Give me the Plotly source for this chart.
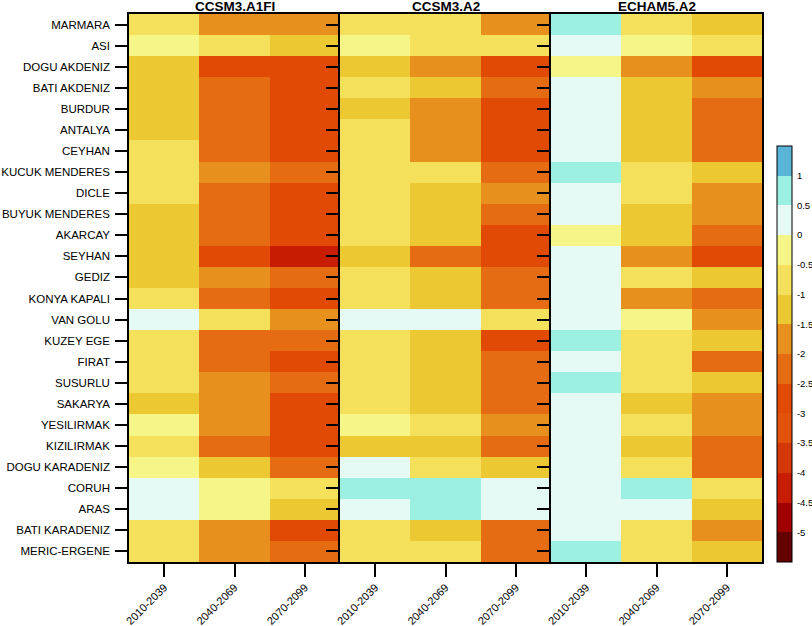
import plotly.graph_objects as go
from plotly.subplots import make_subplots

basins = ["MARMARA", "ASI", "DOGU AKDENIZ", "BATI AKDENIZ", "BURDUR", "ANTALYA",
          "CEYHAN", "KUCUK MENDERES", "DICLE", "BUYUK MENDERES", "AKARCAY", "SEYHAN",
          "GEDIZ", "KONYA KAPALI", "VAN GOLU", "KUZEY EGE", "FIRAT", "SUSURLU",
          "SAKARYA", "YESILIRMAK", "KIZILIRMAK", "DOGU KARADENIZ", "CORUH", "ARAS",
          "BATI KARADENIZ", "MERIC-ERGENE"]
periods = ["2010-2039", "2040-2069", "2070-2099"]
models = ["CCSM3.A1FI", "CCSM3.A2", "ECHAM5.A2"]

a1fi_2010 = [-0.75, -0.25, -1.25, -1.25, -1.25, -1.25, -0.75, -0.75, -0.75, -1.25, -1.25, -1.25, -1.25,
             -0.75, 0.25, -0.75, -0.75, -0.75, -1.25, -0.25, -0.75, -0.25, 0.25, 0.25, -0.75, -0.75]
a1fi_2040 = [-1.75, -0.75, -2.75, -2.25, -2.25, -2.25, -2.25, -1.75, -2.25, -2.25, -2.25, -2.75, -1.75,
             -2.25, -0.75, -2.25, -2.25, -1.75, -1.75, -1.75, -2.25, -1.25, -0.25, -0.25, -1.75, -1.75]
a1fi_2070 = [-1.75, -1.25, -2.75, -2.75, -2.75, -2.75, -2.75, -2.25, -2.75, -2.75, -2.75, -4.25, -2.25,
             -2.75, -1.75, -2.25, -2.75, -2.25, -2.75, -2.75, -2.75, -2.25, -0.75, -1.25, -2.75, -2.25]

a2_2010 = [-0.75, -0.25, -1.25, -0.75, -1.25, -0.75, -0.75, -0.75, -0.75, -0.75, -0.75, -1.25, -0.75,
           -0.75, 0.25, -0.75, -0.75, -0.75, -0.75, -0.25, -1.25, 0.25, 0.75, 0.25, -0.75, -0.75]
a2_2040 = [-0.75, -0.75, -1.75, -1.25, -1.75, -1.75, -1.75, -0.75, -1.25, -1.25, -1.25, -2.25, -1.25,
           -1.25, 0.25, -1.25, -1.25, -1.25, -1.25, -0.75, -1.25, -0.75, 0.75, 0.75, -1.25, -0.75]
a2_2070 = [-1.75, -0.75, -2.75, -2.25, -2.75, -2.75, -2.75, -2.25, -1.75, -2.25, -2.75, -2.75, -2.25,
           -2.25, -0.75, -2.75, -2.25, -2.25, -2.25, -1.75, -2.25, -1.25, 0.25, 0.25, -2.25, -2.25]

echam_2010 = [0.75, 0.25, -0.25, 0.25, 0.25, 0.25, 0.25, 0.75, 0.25, 0.25, -0.25, 0.25, 0.25,
              0.25, 0.25, 0.75, 0.25, 0.75, 0.25, 0.25, 0.25, 0.25, 0.25, 0.25, 0.25, 0.75]
echam_2040 = [-0.75, -0.25, -1.75, -1.25, -1.25, -1.25, -1.25, -0.75, -0.75, -1.25, -1.25, -1.75, -0.75,
              -1.75, -0.25, -0.75, -0.75, -0.75, -1.25, -0.75, -1.25, -0.75, 0.75, 0.25, -0.75, -0.75]
echam_2070 = [-1.25, -0.75, -2.75, -1.75, -2.25, -2.25, -2.25, -1.25, -1.75, -1.75, -2.25, -2.75, -1.25,
              -2.25, -1.75, -1.25, -2.25, -1.25, -1.75, -1.75, -2.25, -2.25, -0.75, -1.25, -1.75, -1.25]

bin_colors = ["#650000", "#a00000", "#c81c00", "#d43808", "#e2520c", "#e04a04", "#e66c14",
              "#e8901e", "#ecc832", "#f5e05c", "#f5f588", "#e6faf5", "#9cf0e2", "#5ab4d8"]
cb_ticks = [-5, -4.5, -4, -3.5, -3, -2.5, -2, -1.5, -1, -0.5, 0, 0.5, 1]
cmin, cmax = -5.5, 1.5

panels = [
    [a1fi_2010, a1fi_2040, a1fi_2070],
    [a2_2010, a2_2040, a2_2070],
    [echam_2010, echam_2040, echam_2070],
]

nb = len(bin_colors)
colorscale = []
for i, c in enumerate(bin_colors):
    colorscale.append([i / nb, c])
    colorscale.append([(i + 1) / nb, c])

FONT = "Liberation Sans, Arial, sans-serif"

fig = make_subplots(rows=1, cols=3, shared_yaxes=True, horizontal_spacing=0,
                    subplot_titles=models)

for j, cols in enumerate(panels):
    z = [[cols[k][r] for k in range(3)] for r in range(len(basins))]
    fig.add_trace(go.Heatmap(z=z, x=periods, y=basins, coloraxis="coloraxis",
                             xgap=0, ygap=0, hoverongaps=False), row=1, col=j + 1)

W, H = 812, 626
ml, mr, mt, mb = 129, 50, 14, 64
pw = W - ml - mr
ph = H - mt - mb
cb_x = 1 + 15 / pw
cb_len = (562 - 146) / ph
cb_th = 15

fig.update_layout(
    width=W, height=H,
    margin=dict(l=ml, r=mr, t=mt, b=mb, autoexpand=False),
    paper_bgcolor="white", plot_bgcolor="white",
    font=dict(family=FONT, color="black"),
    showlegend=False,
    coloraxis=dict(
        colorscale=colorscale, cmin=cmin, cmax=cmax,
        colorbar=dict(
            x=cb_x, xanchor="left", y=0, yanchor="bottom",
            len=cb_len, lenmode="fraction", thickness=cb_th, thicknessmode="pixels",
            xpad=0, ypad=0, outlinewidth=1, outlinecolor="black",
            tickvals=cb_ticks, ticktext=[("%g" % v) for v in cb_ticks],
            ticks="outside", ticklen=3, tickcolor="rgba(0,0,0,0)",
            ticklabeloverflow="allow",
            tickfont=dict(size=9.5, family=FONT),
        ),
    ),
)

for ann in fig.layout.annotations:
    ann.font = dict(size=13.5, family=FONT, color="black", weight="bold")
    ann.borderpad = 0
    ann.yshift = -1

for j in range(1, 4):
    fig.update_xaxes(row=1, col=j, showline=True, mirror=True, linecolor="black", linewidth=1.5,
                     ticks="outside", ticklen=13, tickwidth=1.5, tickcolor="black",
                     tickangle=-45, tickfont=dict(size=11), showgrid=False, zeroline=False,
                     automargin=False)
    fig.update_yaxes(row=1, col=j, showline=True, mirror=True, linecolor="black", linewidth=1.5,
                     ticks="outside", ticklen=12, tickwidth=1.5, tickcolor="black",
                     autorange="reversed", showgrid=False, zeroline=False, automargin=False)

fig.update_yaxes(row=1, col=1, tickfont=dict(size=11.5), ticklabelstandoff=3)

# thin separators between colour bins of the colour bar
for i in range(1, nb):
    yy = cb_len * i / nb
    fig.add_shape(type="line", xref="paper", yref="paper",
                  x0=cb_x, x1=cb_x + cb_th / pw, y0=yy, y1=yy,
                  line=dict(color="black", width=1))

# the page's default body margin would shift the fixed-size figure and add scrollbars
page_fix = "document.body.style.margin='0';document.body.style.overflow='hidden';"

fig.write_html("out.html", post_script=page_fix, config={"displayModeBar": False})
